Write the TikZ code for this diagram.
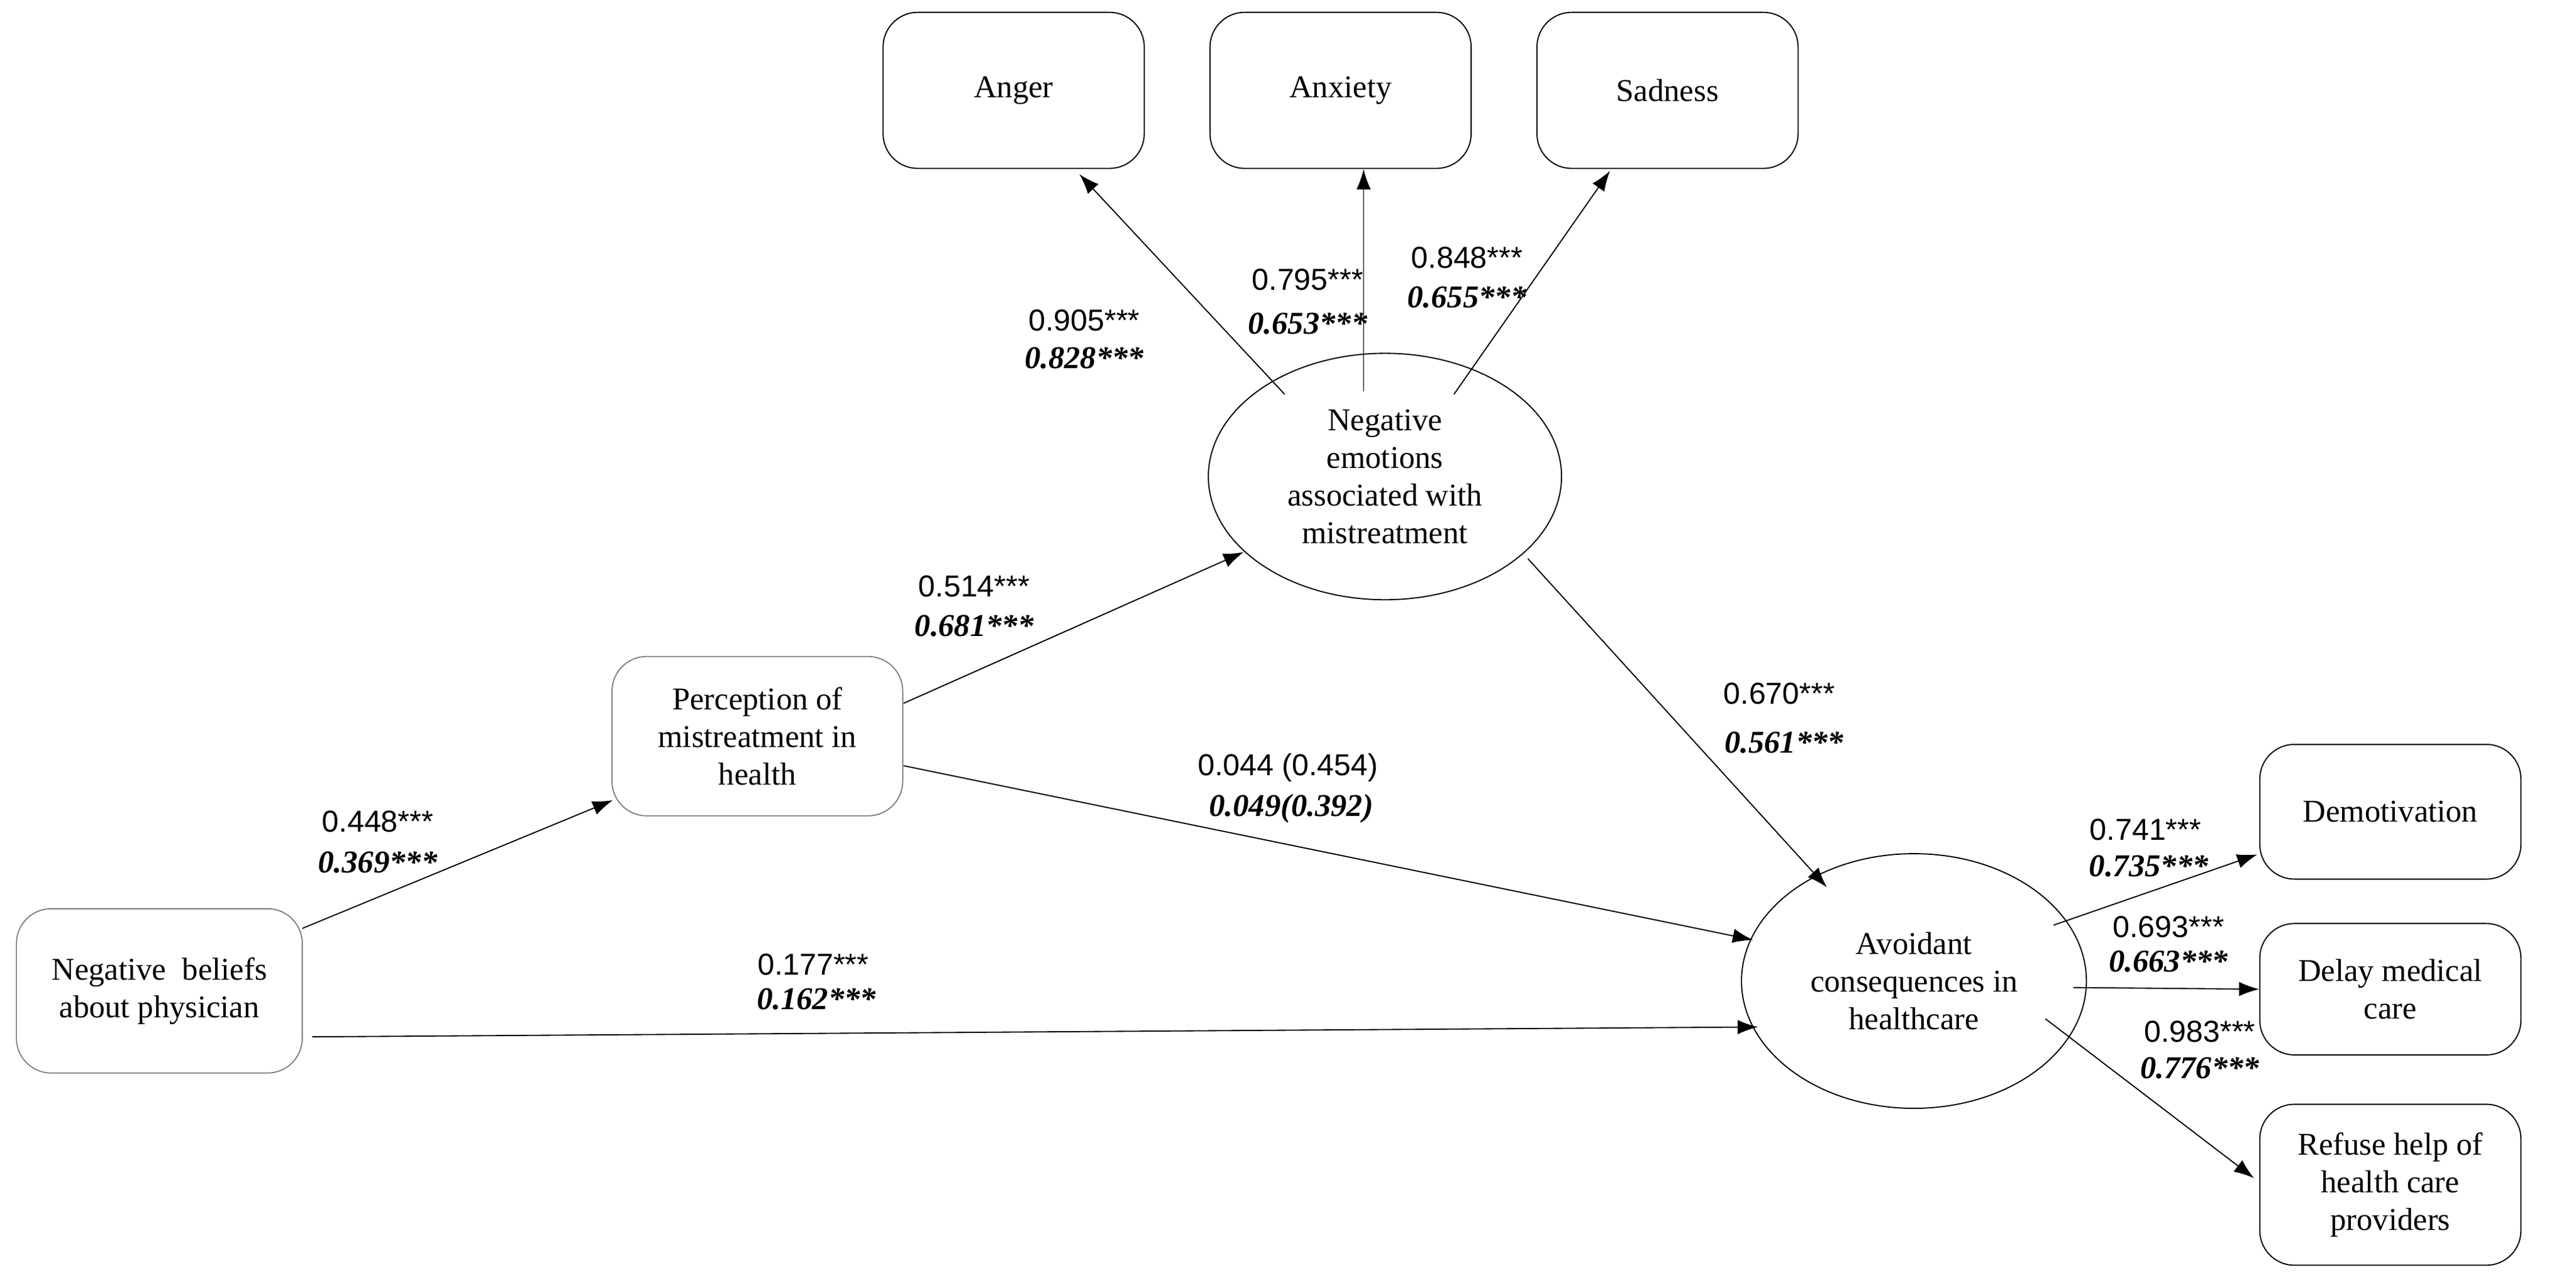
\documentclass[tikz,border=0pt]{standalone}
\usepackage{fontspec}
\setmainfont{Liberation Serif}
\newfontfamily\numfont{Liberation Sans}
\usetikzlibrary{arrows.meta,shapes.geometric}

\tikzset{
  box/.style={draw,rounded corners=12pt,align=center,minimum width=3.18cm,font=\fontsize{11}{13}\selectfont},
  gbox/.style={box,draw=gray},
  latent/.style={draw,ellipse,align=center,font=\fontsize{11}{13}\selectfont},
  arr/.style={-{Latex[length=7pt,width=5pt]}},
  est/.style={font=\numfont\fontsize{10.5}{12}\selectfont},
  std/.style={font=\fontsize{11}{12}\selectfont\bfseries\itshape}
}

\begin{document}
\begin{tikzpicture}[x=0.02cm,y=-0.02cm]
  \useasboundingbox (0,0) rectangle (1568,780);
  % indicators
  \node [box,minimum height=1.9cm] (anger) at (617,55) {Anger};
  \node [box,minimum height=1.9cm] (anxiety) at (816,55) {Anxiety};
  \node [box,minimum height=1.9cm] (sadness) at (1015,55) {Sadness};
  \node [box,minimum height=1.64cm] (demot) at (1455,494) {Demotivation};
  \node [box,minimum height=1.6cm] (delay) at (1455,602) {Delay medical\\care};
  \node [box,minimum height=1.96cm] (refuse) at (1455,721) {Refuse help of\\health care\\providers};
  % latent variables
  \node [latent,minimum width=4.3cm,minimum height=3cm] (emot) at (843,290)
    {Negative\\emotions\\associated with\\mistreatment};
  \node [latent,minimum width=4.2cm,minimum height=3.1cm] (avoid) at (1165,597)
    {Avoidant\\consequences in\\healthcare};
  \node [gbox,minimum width=3.54cm,minimum height=1.94cm] (percep) at (461,448)
    {Perception of\\mistreatment in\\health};
  \node [gbox,minimum width=3.48cm,minimum height=2cm] (belief) at (97,603)
    {Negative~~beliefs\\about physician};
  % anchor points
  \coordinate (b1) at (184,565);
  \coordinate (b2) at (190,631);
  \coordinate (p0) at (373,487);
  \coordinate (p1) at (550,428);
  \coordinate (p2) at (550,466);
  \coordinate (e0) at (757,336);
  \coordinate (e1) at (930,340);
  \coordinate (e2) at (782,240);
  \coordinate (e3) at (830,238);
  \coordinate (e4) at (885,240);
  \coordinate (a0) at (1070,625);
  \coordinate (a1) at (1067,572);
  \coordinate (a2) at (1112,540);
  \coordinate (a3) at (1250,563);
  \coordinate (a4) at (1262,601);
  \coordinate (a5) at (1245,620);
  \coordinate (g0) at (657,106);
  \coordinate (x0) at (830,103);
  \coordinate (d0) at (980,104);
  \coordinate (m0) at (1374,520);
  \coordinate (r0) at (1372,717);
  % paths
  \draw [arr] (b1) -- (p0);
  \draw [arr] (b2) -- (a0);
  \draw [arr] (p1) -- (e0);
  \draw [arr] (p2) -- (a1);
  \draw [arr] (e1) -- (a2);
  \draw [arr] (e2) -- (g0);
  \draw [arr] (e3) -- (x0);
  \draw [arr] (e4) -- (d0);
  \draw [arr] (a3) -- (m0);
  \draw [arr] (a4) -- (delay.west);
  \draw [arr] (a5) -- (r0);
  % estimates
  \node [est] (l1) at (660,195) {0.905***};
  \node [std] (s1) at (660,218) {0.828***};
  \node [est] (l2) at (796,170) {0.795***};
  \node [std] (s2) at (796,197) {0.653***};
  \node [est] (l3) at (893,157) {0.848***};
  \node [std] (s3) at (893,181) {0.655***};
  \node [est] (l4) at (593,357) {0.514***};
  \node [std] (s4) at (593,381) {0.681***};
  \node [est] (l5) at (230,500) {0.448***};
  \node [std] (s5) at (230,525) {0.369***};
  \node [est] (l6) at (495,587) {0.177***};
  \node [std] (s6) at (497,608) {0.162***};
  \node [est] (l7) at (784,467) {0.044 (0.454)};
  \node [std] (s7) at (786,492) {0.049(0.392)};
  \node [est] (l8) at (1083,422) {0.670***};
  \node [std] (s8) at (1086,452) {0.561***};
  \node [est] (l9) at (1306,505) {0.741***};
  \node [std] (s9) at (1308,527) {0.735***};
  \node [est] (l10) at (1320,564) {0.693***};
  \node [std] (s10) at (1320,585) {0.663***};
  \node [est] (l11) at (1339,628) {0.983***};
  \node [std] (s11) at (1339,650) {0.776***};
\end{tikzpicture}
\end{document}
